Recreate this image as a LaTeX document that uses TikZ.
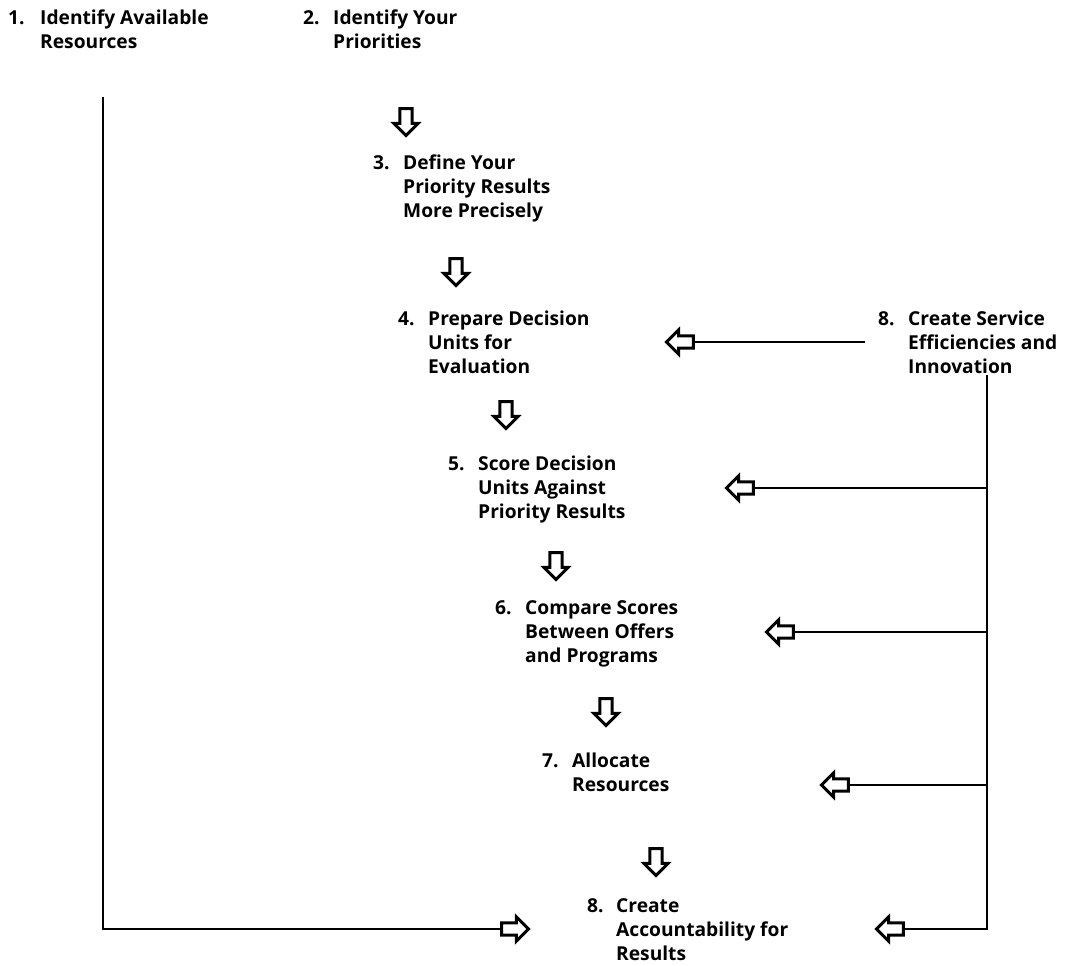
\documentclass[tikz,border=0pt]{standalone}
\usepackage{fontspec}
\setmainfont{Open Sans}
\usetikzlibrary{shapes.arrows}
\begin{document}
\begin{tikzpicture}[x=1pt,y=-1pt,
  stage/.style={anchor=base west, inner sep=0pt, font=\bfseries\fontsize{19.2}{24}\selectfont},
  hollow/.style={single arrow, draw, line width=3pt, fill=white, inner sep=4.6pt,
    minimum height=27pt, single arrow head extend=6pt, single arrow tip angle=90},
  downarrow/.style={hollow, rotate=-90},
  leftarrow/.style={hollow, rotate=180},
  rightarrow/.style={hollow},
  link/.style={line width=1.7pt}]
\useasboundingbox (0,0) rectangle (1077,966);

% stages of the process
\node[stage] (s1) at (8,25) {\begin{tabular}[t]{@{}p{32pt}@{}l@{}}1.&Identify Available\\&Resources\end{tabular}};
\node[stage] (s2) at (303,25) {\begin{tabular}[t]{@{}p{30pt}@{}l@{}}2.&Identify Your\\&Priorities\end{tabular}};
\node[stage] (s3) at (373,169) {\begin{tabular}[t]{@{}p{30pt}@{}l@{}}3.&Define Your\\&Priority Results\\&More Precisely\end{tabular}};
\node[stage] (s4) at (398,325) {\begin{tabular}[t]{@{}p{30pt}@{}l@{}}4.&Prepare Decision\\&Units for\\&Evaluation\end{tabular}};
\node[stage] (svc) at (878,325) {\begin{tabular}[t]{@{}p{30pt}@{}l@{}}8.&Create Service\\&Efficiencies and\\&Innovation\end{tabular}};
\node[stage] (s5) at (448,470) {\begin{tabular}[t]{@{}p{30pt}@{}l@{}}5.&Score Decision\\&Units Against\\&Priority Results\end{tabular}};
\node[stage] (s6) at (495,614) {\begin{tabular}[t]{@{}p{30pt}@{}l@{}}6.&Compare Scores\\&Between Offers\\&and Programs\end{tabular}};
\node[stage] (s7) at (542,767) {\begin{tabular}[t]{@{}p{30pt}@{}l@{}}7.&Allocate\\&Resources\end{tabular}};
\node[stage] (s8) at (587,912) {\begin{tabular}[t]{@{}p{29pt}@{}l@{}}8.&Create\\&Accountability for\\&Results\end{tabular}};

% downward flow between stages
\node[downarrow] (d1) at (406,119) {};
\node[downarrow] (d2) at (456,269) {};
\node[downarrow] (d3) at (506,412) {};
\node[downarrow] (d4) at (556,563) {};
\node[downarrow] (d5) at (606,709) {};
\node[downarrow] (d6) at (656,859) {};

% feedback arrows from the service-efficiency stage
\node[leftarrow] (f4) at (683,342) {};
\node[leftarrow] (f5) at (743,488) {};
\node[leftarrow] (f6) at (783,632) {};
\node[leftarrow] (f7) at (838,785) {};
\node[leftarrow] (f8) at (893,929) {};
\node[rightarrow] (fin) at (512,929) {};

\coordinate (ltop) at (103,97);
\coordinate (rtop) at (987,375);
\coordinate (svcend) at (865,342);

% resources line into accountability
\draw[link] (ltop) |- (fin.tail);
% service-efficiency links
\draw[link] (svcend) -- (f4.tail);
\draw[link] (rtop) |- (f8.tail);
\draw[link] (rtop |- f5.tail) -- (f5.tail);
\draw[link] (rtop |- f6.tail) -- (f6.tail);
\draw[link] (rtop |- f7.tail) -- (f7.tail);
\end{tikzpicture}
\end{document}
